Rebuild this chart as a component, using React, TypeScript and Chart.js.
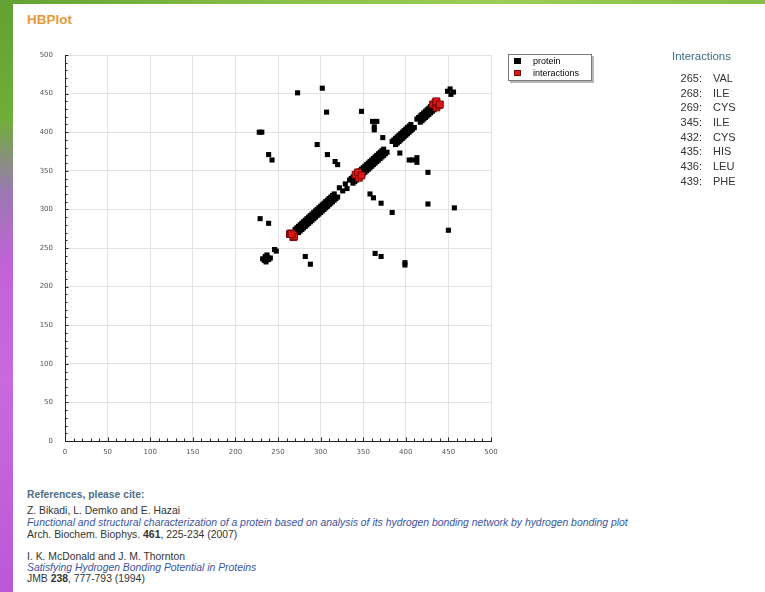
import React, { useEffect, useRef } from 'react';
import { Chart, registerables } from 'chart.js';

Chart.register(...registerables);

// ---------- DATA ----------
const axisMin = 0;
const axisMax = 500;
const axisStep = 50;

const seriesLabels = ['protein', 'interactions'];

// protein hydrogen bonds away from the diagonal (donor residue, acceptor residue)
const proteinScatterX = [
  228, 231, 273, 302, 307, 239, 243, 296, 308, 317, 320, 348, 361, 366, 363, 363, 373, 393, 404, 408,
  413, 413, 426, 358, 362, 371, 384, 426, 457, 450, 364, 371, 399, 399, 229, 239, 282, 288,
];
const proteinScatterY = [
  400, 400, 451, 457, 426, 371, 364, 384, 371, 362, 358, 427, 414, 414, 407, 403, 393, 373, 364, 364,
  367, 361, 348, 320, 315, 308, 296, 307, 302, 273, 243, 239, 231, 228, 288, 282, 239, 229,
];

// protein hydrogen bonds near the diagonal (helical i / i+4 bonds)
const proteinHelixX = [
  232, 236, 235, 239, 237, 241, 234, 238, 246, 248,
  270, 274, 272, 276, 274, 278, 276, 280, 278, 282, 280, 284, 282, 286, 284, 288, 286, 290, 288, 292,
  290, 294, 292, 296, 294, 298, 296, 300, 298, 302, 300, 304, 302, 306, 304, 308, 306, 310, 308, 312,
  310, 314, 312, 316, 314, 318, 316, 320,
  322, 326, 329, 331,
  334, 338, 336, 340, 338, 342, 340, 344, 342, 346, 344, 348, 346, 350, 348, 352, 350, 354, 352, 356,
  354, 358, 356, 360, 358, 362, 360, 364, 362, 366, 364, 368, 366, 370, 368, 372, 370, 374, 372, 376,
  374, 378,
  384, 388, 386, 390, 388, 392, 390, 394, 392, 396, 394, 398, 396, 400, 398, 402, 400, 404, 402, 406,
  404, 408, 406, 410,
  413, 417, 415, 419, 417, 421, 419, 423, 421, 425, 423, 427, 425, 429, 427, 431, 429, 433, 431, 435,
  449, 453, 452, 456,
];
const proteinHelixY = [
  236, 232, 239, 235, 241, 237, 234, 238, 248, 246,
  274, 270, 276, 272, 278, 274, 280, 276, 282, 278, 284, 280, 286, 282, 288, 284, 290, 286, 292, 288,
  294, 290, 296, 292, 298, 294, 300, 296, 302, 298, 304, 300, 306, 302, 308, 304, 310, 306, 312, 308,
  314, 310, 316, 312, 318, 314, 320, 316,
  328, 324, 333, 327,
  338, 334, 340, 336, 342, 338, 344, 340, 346, 342, 348, 344, 350, 346, 352, 348, 354, 350, 356, 352,
  358, 354, 360, 356, 362, 358, 364, 360, 366, 362, 368, 364, 370, 366, 372, 368, 374, 370, 376, 372,
  378, 374,
  388, 384, 390, 386, 392, 388, 394, 390, 396, 392, 398, 394, 400, 396, 402, 398, 404, 400, 406, 402,
  408, 404, 410, 406,
  417, 413, 419, 415, 421, 417, 423, 419, 425, 421, 427, 423, 429, 425, 431, 427, 433, 429, 435, 431,
  453, 449, 456, 452,
];

// bonds involving interaction residues
const interactionX = [264, 268, 265, 269, 266, 341, 345, 344, 348, 432, 436, 435, 439, 436, 440];
const interactionY = [268, 264, 269, 265, 268, 345, 341, 348, 344, 436, 432, 439, 435, 440, 436];

// interaction residue table
const residueNumbers = [265, 268, 269, 345, 432, 435, 436, 439];
const residueNames = ['VAL', 'ILE', 'CYS', 'ILE', 'CYS', 'HIS', 'LEU', 'PHE'];

// ---------- PLUGINS ----------
const minorTicks = {
  id: 'minorTicks',
  afterDraw(chart: any) {
    const { ctx, chartArea, scales } = chart;
    ctx.save();
    ctx.strokeStyle = '#222';
    ctx.lineWidth = 1;
    ctx.beginPath();
    for (let v = axisMin; v <= axisMax; v += 10) {
      const len = v % axisStep === 0 ? 3.5 : 2.5;
      const px = Math.round(scales.x.getPixelForValue(v)) + 0.5;
      ctx.moveTo(px, chartArea.bottom);
      ctx.lineTo(px, chartArea.bottom - len);
      const py = Math.round(scales.y.getPixelForValue(v)) + 0.5;
      ctx.moveTo(chartArea.left, py);
      ctx.lineTo(chartArea.left + len, py);
    }
    ctx.stroke();
    ctx.restore();
  },
};

const boxLegend = {
  id: 'boxLegend',
  afterDraw(chart: any) {
    const { ctx, chartArea } = chart;
    const x = chartArea.right + 17;
    const y = chartArea.top - 1;
    const w = 84;
    const h = 27;
    ctx.save();
    ctx.fillStyle = 'rgba(0,0,0,0.28)';
    ctx.fillRect(x + 2, y + 2, w, h);
    ctx.fillStyle = '#fff';
    ctx.fillRect(x, y, w, h);
    ctx.strokeStyle = '#7a7a7a';
    ctx.lineWidth = 1;
    ctx.strokeRect(x + 0.5, y + 0.5, w - 1, h - 1);
    chart.data.datasets.forEach((ds: any, i: number) => {
      const cy = y + 7 + i * 12;
      ctx.fillStyle = ds.backgroundColor;
      ctx.fillRect(x + 6, cy - 3, 7, 6);
      if (i > 0) {
        ctx.strokeStyle = ds.borderColor;
        ctx.strokeRect(x + 6.5, cy - 2.5, 6, 5);
      }
      ctx.fillStyle = '#000';
      ctx.font = '9px "Liberation Sans", Arial, sans-serif';
      ctx.textBaseline = 'middle';
      ctx.fillText(ds.label, x + 25, cy + 0.5);
    });
    ctx.restore();
  },
};

function HBPlotChart() {
  const ref = useRef<HTMLCanvasElement>(null);
  useEffect(() => {
    if (!ref.current) return;
    const proteinX = proteinScatterX.concat(proteinHelixX);
    const proteinY = proteinScatterY.concat(proteinHelixY);
    const chart = new Chart(ref.current, {
      type: 'scatter',
      data: {
        datasets: [
          {
            label: seriesLabels[0],
            data: proteinX.map((x, i) => ({ x, y: proteinY[i] })),
            order: 2,
            pointStyle: 'rect',
            pointRadius: 3.6,
            pointBorderWidth: 0,
            backgroundColor: '#000000',
            borderColor: '#000000',
          },
          {
            label: seriesLabels[1],
            data: interactionX.map((x, i) => ({ x, y: interactionY[i] })),
            order: 1,
            pointStyle: 'rect',
            pointRadius: 4.8,
            pointBorderWidth: 1,
            backgroundColor: '#dd1515',
            borderColor: '#7a0a0a',
          },
        ],
      },
      options: {
        animation: false,
        responsive: false,
        maintainAspectRatio: false,
        events: [],
        layout: { padding: { left: 35, top: 55, right: 274, bottom: 9 } },
        plugins: { legend: { display: false }, tooltip: { enabled: false } },
        scales: {
          x: {
            type: 'linear',
            min: axisMin,
            max: axisMax,
            ticks: {
              stepSize: axisStep,
              maxRotation: 0,
              autoSkip: false,
              padding: 7,
              color: '#555',
              font: { family: '"DejaVu Sans", Verdana, sans-serif', size: 7 },
            },
            grid: { color: '#e3e3e3', drawTicks: false },
            border: { color: '#222', width: 1 },
            afterFit: (s: any) => {
              s.height = 20;
            },
          },
          y: {
            type: 'linear',
            min: axisMin,
            max: axisMax,
            ticks: {
              stepSize: axisStep,
              autoSkip: false,
              padding: 12,
              color: '#555',
              font: { family: '"DejaVu Sans", Verdana, sans-serif', size: 7 },
            },
            grid: { color: '#e3e3e3', drawTicks: false },
            border: { color: '#222', width: 1 },
            afterFit: (s: any) => {
              s.width = 30;
            },
          },
        },
      },
      plugins: [minorTicks, boxLegend],
    });
    return () => chart.destroy();
  }, []);
  return (
    <canvas
      ref={ref}
      width={765}
      height={470}
      style={{ position: 'absolute', left: 0, top: 0, width: 765, height: 470 }}
    />
  );
}

const sans = '"Liberation Sans", Arial, Helvetica, sans-serif';

function Line({ y, children, style }: { y: number; children: any; style?: any }) {
  return (
    <div
      style={{
        position: 'absolute',
        left: 27,
        top: y - 6,
        height: 12,
        lineHeight: '12px',
        whiteSpace: 'nowrap',
        fontFamily: sans,
        fontSize: 10.4,
        color: '#333',
        ...style,
      }}
    >
      {children}
    </div>
  );
}

export default function App() {
  return (
    <div
      style={{
        position: 'fixed',
        left: 0,
        top: 0,
        width: 765,
        height: 592,
        overflow: 'hidden',
        background: '#fff',
      }}
    >
      {/* left decorative strip */}
      <div
        style={{
          position: 'absolute',
          left: 0,
          top: 0,
          width: 14,
          height: 592,
          background:
            'linear-gradient(180deg, #62a232 0px, #70ae3a 120px, #9a7ab0 190px, #c063d6 260px, #c86ade 380px, #b85ad6 592px)',
        }}
      />
      {/* top decorative strip */}
      <div
        style={{
          position: 'absolute',
          left: 0,
          top: 0,
          width: 765,
          height: 5,
          background: 'linear-gradient(90deg, #62a232 0px, #8cc24a 300px, #9ccd55 500px, #86be46 765px)',
        }}
      />
      {/* white panel */}
      <div
        style={{
          position: 'absolute',
          left: 13,
          top: 4,
          width: 752,
          height: 588,
          background: '#fff',
        }}
      />
      <div
        style={{
          position: 'absolute',
          left: 27,
          top: 12,
          lineHeight: '16px',
          fontFamily: sans,
          fontWeight: 'bold',
          fontSize: 13.5,
          color: '#e89a3a',
        }}
      >
        HBPlot
      </div>

      <HBPlotChart />

      {/* interactions table */}
      <div
        style={{
          position: 'absolute',
          left: 672,
          top: 49,
          lineHeight: '14px',
          fontFamily: sans,
          fontSize: 11.4,
          color: '#3d6a86',
        }}
      >
        Interactions
      </div>
      {residueNumbers.map((n, i) => (
        <React.Fragment key={n + '-' + i}>
          <div
            style={{
              position: 'absolute',
              left: 668,
              width: 34,
              textAlign: 'right',
              top: 71 + i * 14.65,
              lineHeight: '14px',
              fontFamily: sans,
              fontSize: 11,
              color: '#333',
            }}
          >
            {n}:
          </div>
          <div
            style={{
              position: 'absolute',
              left: 713,
              top: 71 + i * 14.65,
              lineHeight: '14px',
              fontFamily: sans,
              fontSize: 11,
              color: '#333',
            }}
          >
            {residueNames[i]}
          </div>
        </React.Fragment>
      ))}

      {/* references */}
      <Line y={495} style={{ fontWeight: 'bold', color: '#4e6e86', fontSize: 10.3 }}>
        References, please cite:
      </Line>
      <Line y={511}>Z. Bikadi, L. Demko and E. Hazai</Line>
      <Line y={523} style={{ fontStyle: 'italic', color: '#3a55a0' }}>
        Functional and structural characterization of a protein based on analysis of its hydrogen bonding network by
        hydrogen bonding plot
      </Line>
      <Line y={535}>
        Arch. Biochem. Biophys. <b>461</b>, 225-234 (2007)
      </Line>
      <Line y={557}>I. K. McDonald and J. M. Thornton</Line>
      <Line y={568} style={{ fontStyle: 'italic', color: '#3a55a0' }}>
        Satisfying Hydrogen Bonding Potential in Proteins
      </Line>
      <Line y={579}>
        JMB <b>238</b>, 777-793 (1994)
      </Line>
    </div>
  );
}
